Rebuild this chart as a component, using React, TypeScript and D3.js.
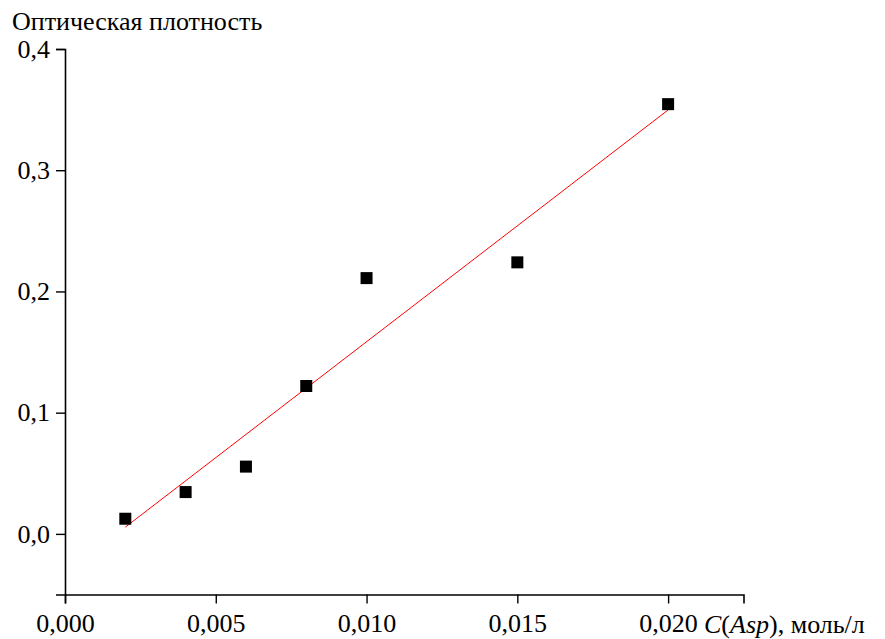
import React, { useEffect, useRef } from "react";
import * as d3 from "d3";

// concentration, mol/l
const conc = [0.002, 0.004, 0.006, 0.008, 0.01, 0.015, 0.02];
// optical density
const density = [0.0125, 0.0345, 0.0555, 0.122, 0.211, 0.224, 0.3545];
const xTicks = [0, 0.005, 0.01, 0.015, 0.02];
const yTicks = [0, 0.1, 0.2, 0.3, 0.4];

const W = 885;
const H = 639;
const FONT = "Liberation Serif, Times New Roman, DejaVu Serif, serif";

export default function App() {
  const ref = useRef<SVGSVGElement>(null);

  useEffect(() => {
    const svg = d3.select(ref.current);
    svg.selectAll("*").remove();

    const x = d3.scaleLinear().domain([0, 0.0225]).range([65, 743.5]);
    const y = d3.scaleLinear().domain([-0.05, 0.4]).range([594.5, 49]);
    const fmt = (v: number, n: number) => v.toFixed(n).replace(".", ",");

    // x axis
    const xAx = svg.append("g").attr("transform", `translate(0,${y(-0.05)})`);
    xAx.call(
      d3.axisBottom(x).tickValues(d3.range(0, 0.02251, 0.0025)).tickSize(5).tickFormat(() => "")
    );
    xAx.call(
      d3.axisBottom(x).tickValues(xTicks).tickSize(9).tickPadding(10).tickFormat((d) => fmt(+d, 3))
    );

    // y axis
    const yAx = svg.append("g").attr("transform", `translate(${x(0)},0)`);
    yAx.call(
      d3.axisLeft(y).tickValues(d3.range(-0.05, 0.4001, 0.05)).tickSize(5).tickFormat(() => "")
    );
    yAx.call(
      d3.axisLeft(y).tickValues(yTicks).tickSize(9).tickPadding(6).tickFormat((d) => fmt(+d, 1))
    );

    svg.selectAll("g").attr("font-family", null).attr("font-size", null);
    svg.selectAll(".domain").attr("stroke-width", 1.6);
    svg.selectAll(".tick line").attr("stroke-width", 1.4);
    svg.selectAll(".tick text").style("font-family", FONT).style("font-size", "26px").attr("fill", "#000");

    // linear fit
    const mx = d3.mean(conc)!;
    const my = d3.mean(density)!;
    const sxy = d3.sum(conc, (c, i) => (c - mx) * (density[i] - my));
    const sxx = d3.sum(conc, (c) => (c - mx) ** 2);
    const k = sxy / sxx;
    const b = my - k * mx;
    const ends = [d3.min(conc)!, d3.max(conc)!];
    svg
      .append("path")
      .attr(
        "d",
        d3
          .line<number>()
          .x((c) => x(c))
          .y((c) => y(k * c + b))(ends)
      )
      .attr("stroke", "#ff0000")
      .attr("stroke-width", 1)
      .attr("fill", "none");

    // points
    svg
      .append("g")
      .selectAll("rect")
      .data(conc)
      .join("rect")
      .attr("x", (c) => x(c) - 6)
      .attr("y", (c, i) => y(density[i]) - 6)
      .attr("width", 12)
      .attr("height", 12)
      .attr("fill", "#000");

    // titles
    svg
      .append("text")
      .attr("x", 12)
      .attr("y", 30)
      .style("font-family", FONT)
      .style("font-size", "26px")
      .text("Оптическая плотность");

    const xl = svg
      .append("text")
      .attr("x", 704)
      .attr("y", 633)
      .style("font-family", FONT)
      .style("font-size", "26px");
    xl.append("tspan").attr("font-style", "italic").text("C");
    xl.append("tspan").text("(");
    xl.append("tspan").attr("font-style", "italic").text("Asp");
    xl.append("tspan").text("), моль/л");
  }, []);

  return (
    <svg
      ref={ref}
      width={W}
      height={H}
      style={{ position: "absolute", left: 0, top: 0, background: "#fff" }}
    />
  );
}
